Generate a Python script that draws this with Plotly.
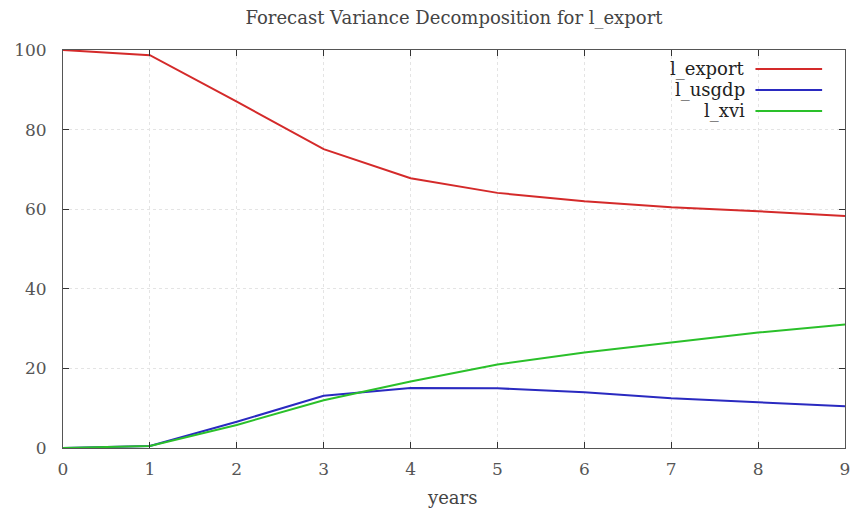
import plotly.graph_objects as go

years = [0, 1, 2, 3, 4, 5, 6, 7, 8, 9]
l_export = [100, 98.7, 87.0, 75.1, 67.8, 64.1, 62.0, 60.5, 59.5, 58.3]
l_usgdp = [0, 0.5, 6.6, 13.1, 15.1, 15.0, 14.0, 12.5, 11.5, 10.5]
l_xvi = [0, 0.5, 5.8, 12.0, 16.7, 21.0, 24.0, 26.5, 29.0, 31.0]
series_names = ["l_export", "l_usgdp", "l_xvi"]
colors = ["#d42a2a", "#2a2ac0", "#2ac02a"]
x_ticks = [0, 1, 2, 3, 4, 5, 6, 7, 8, 9]
y_ticks = [0, 20, 40, 60, 80, 100]

W, H = 862, 510
ml, mr, mt, mb = 63, 13, 50, 62

fig = go.Figure()
for name, vals, c in zip(series_names, [l_export, l_usgdp, l_xvi], colors):
    fig.add_trace(go.Scatter(x=years, y=vals, mode="lines", name=name,
                             line=dict(color=c, width=2), showlegend=False))

font_family = "DejaVu Serif"
axis_common = dict(showline=True, linecolor="#555555", linewidth=1, mirror="ticks",
                   ticks="inside", ticklen=6, tickcolor="#333333",
                   showgrid=True, gridcolor="#e4e4e4", griddash="dot", gridwidth=1,
                   zeroline=False, ticklabeloverflow="allow",
                   tickfont=dict(family=font_family, size=17, color="#555555"))

fig.update_layout(
    width=W, height=H,
    margin=dict(l=ml, r=mr, t=mt, b=mb),
    plot_bgcolor="white", paper_bgcolor="white",
    title=dict(text="Forecast Variance Decomposition for l_export", x=0.5, xanchor="center",
               xref="paper", y=1 - 18 / H, yanchor="middle",
               font=dict(family=font_family, size=18, color="#444444")),
    xaxis=dict(range=[0, 9], tickvals=x_ticks, ticklabelstandoff=6, **axis_common),
    yaxis=dict(range=[0, 100], tickvals=y_ticks, ticklabelstandoff=12, **axis_common),
)

pw = W - ml - mr
ph = H - mt - mb
def px_to_paper_x(px):
    return (px - ml) / pw
def py_to_paper_y(py):
    return (H - mb - py) / ph

# x-axis title
fig.add_annotation(x=px_to_paper_x(454), y=py_to_paper_y(497), xref="paper", yref="paper",
                   text="years", showarrow=False, xanchor="center", yanchor="middle",
                   font=dict(family=font_family, size=18, color="#444444"))

# Legend drawn gnuplot-style: label right-aligned, line sample to the right
rows_y = [69, 90, 111]
for name, c, ry in zip(series_names, colors, rows_y):
    fig.add_annotation(x=px_to_paper_x(750), y=py_to_paper_y(ry), xref="paper", yref="paper",
                       text=name, showarrow=False, xanchor="right", yanchor="middle",
                       font=dict(family=font_family, size=18, color="#222222"))
    fig.add_shape(type="line", xref="paper", yref="paper",
                  x0=px_to_paper_x(759), x1=px_to_paper_x(826),
                  y0=py_to_paper_y(ry), y1=py_to_paper_y(ry),
                  line=dict(color=c, width=2))

fig.write_html("out.html", config={"displayModeBar": False},
               post_script="document.body.style.margin='0';document.body.style.overflow='hidden';")
